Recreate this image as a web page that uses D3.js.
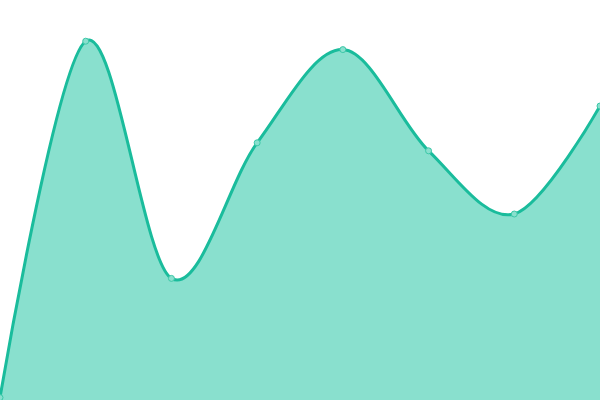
<!DOCTYPE html>
<html>
<head>
<meta charset="utf-8">
<script src="https://cdn.jsdelivr.net/npm/d3@7"></script>
<style>
  body { margin: 0; background: #fff; }
  svg { display: block; }
</style>
</head>
<body>
<div id="chart"></div>
<script>
var width = 600, height = 400;

var steps = [0, 1, 2, 3, 4, 5, 6, 7];
var values = [0.6, 89.7, 30.4, 64.3, 87.6, 62.3, 46.5, 73.5];

var data = steps.map(function(s, i) { return { step: s, value: values[i] }; });

var x = d3.scaleLinear().domain([0, 7]).range([0, width]);
var y = d3.scaleLinear().domain([0, 100]).range([height, 0]);

var svg = d3.select('#chart').append('svg')
  .attr('width', width)
  .attr('height', height);

var area = d3.area()
  .x(function(d) { return x(d.step); })
  .y0(height)
  .y1(function(d) { return y(d.value); })
  .curve(d3.curveCardinal);

var line = d3.line()
  .x(function(d) { return x(d.step); })
  .y(function(d) { return y(d.value); })
  .curve(d3.curveCardinal);

svg.append('path')
  .datum(data)
  .attr('d', area)
  .style('fill', '#89e0ce');

svg.append('path')
  .datum(data)
  .attr('d', line)
  .style('fill', 'none')
  .style('stroke', '#1abc9c')
  .style('stroke-width', 3);

svg.selectAll('circle.point')
  .data(data)
  .enter()
  .append('circle')
  .attr('class', 'point')
  .attr('cx', function(d) { return x(d.step); })
  .attr('cy', function(d) { return y(d.value); })
  .attr('r', 3)
  .style('fill', '#89e0ce')
  .style('stroke', '#3cc8a8')
  .style('stroke-width', 1);
</script>
</body>
</html>
